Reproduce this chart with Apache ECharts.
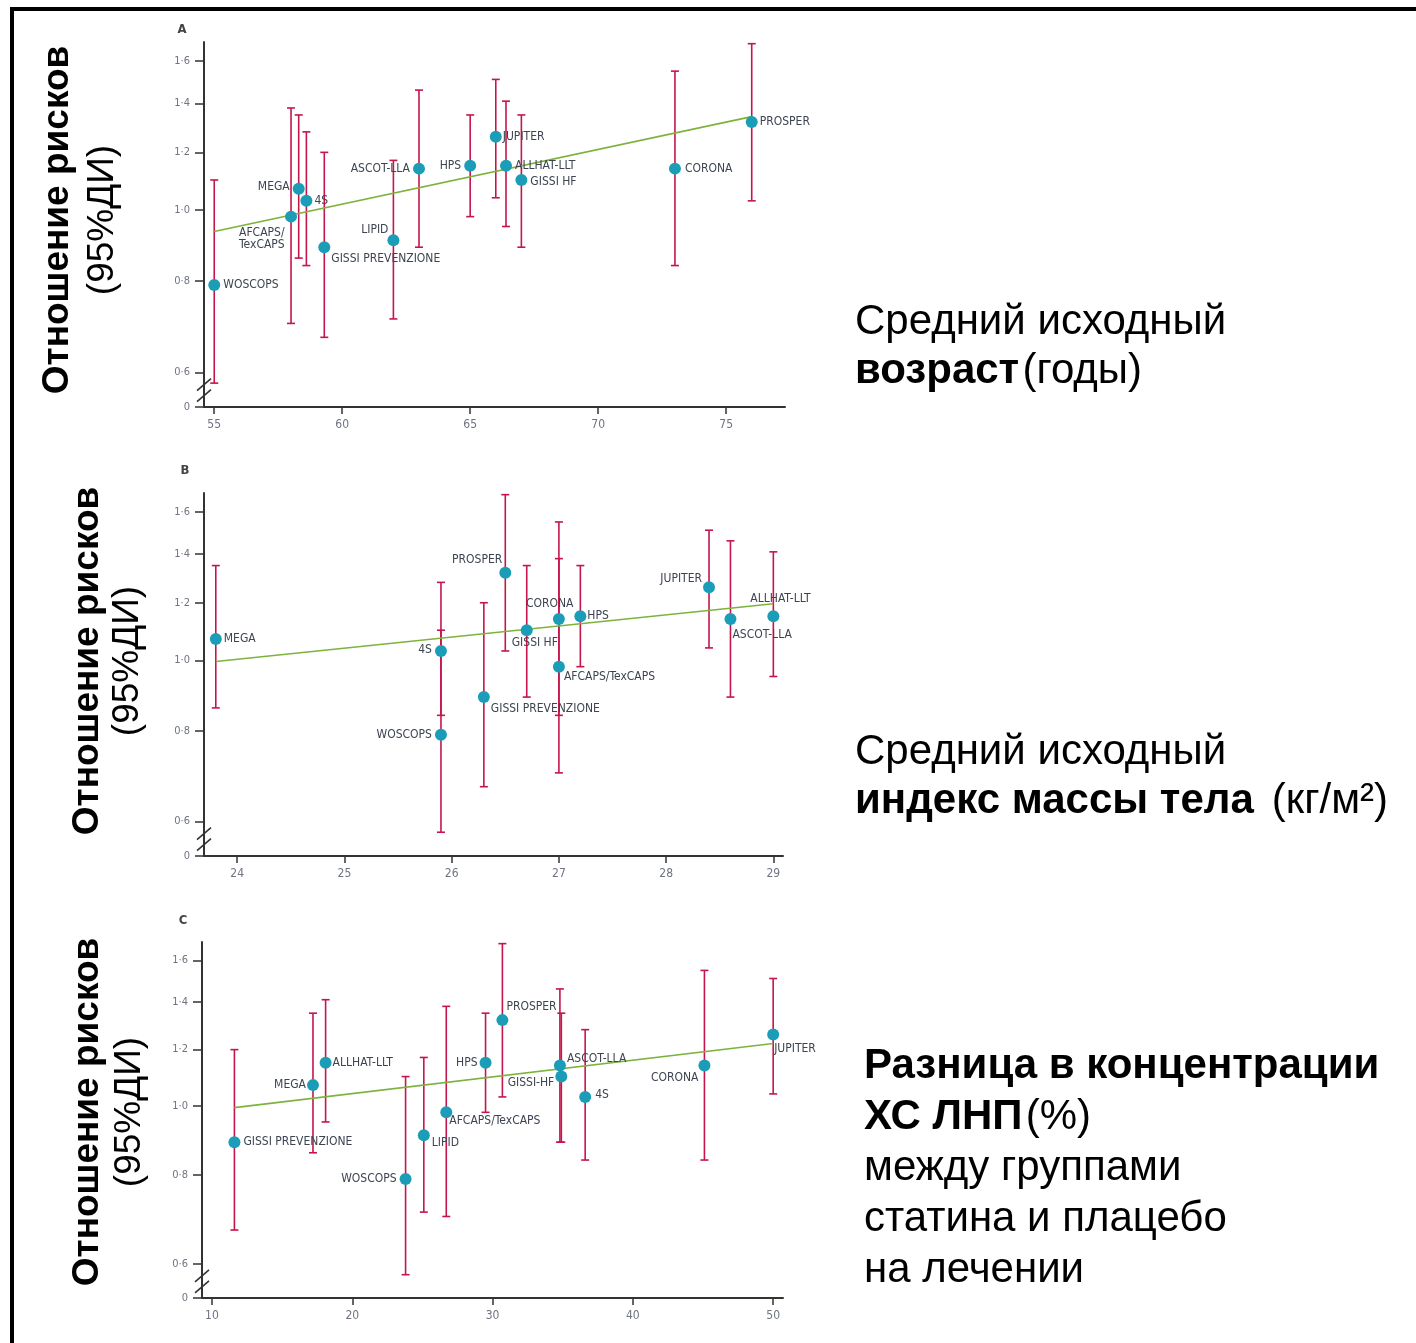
<!DOCTYPE html>
<html>
<head>
<meta charset="utf-8">
<script src="https://cdn.jsdelivr.net/npm/echarts@6/dist/echarts.min.js"></script>
<style>
html, body { margin: 0; padding: 0; background: #fff; }
#chart { width: 1416px; height: 1343px; }
</style>
</head>
<body>
<div id="chart"></div>
<script>
// statin trials, same order in every array below
var studies = ['ASCOT-LLA', 'HPS', 'JUPITER', 'WOSCOPS', 'LIPID', 'CORONA', 'PROSPER',
               'MEGA', 'AFCAPS/TexCAPS', '4S', 'ALLHAT-LLT', 'GISSI HF', 'GISSI PREVENZIONE'];
var hazardRatio = [1.14, 1.15, 1.26, 0.79, 0.91, 1.14, 1.32, 1.07, 0.98, 1.03, 1.15, 1.10, 0.89];
var ciLower     = [0.89, 0.98, 1.04, 0.58, 0.71, 0.84, 1.03, 0.86, 0.70, 0.84, 0.95, 0.89, 0.67];
var ciUpper     = [1.46, 1.35, 1.51, 1.10, 1.17, 1.55, 1.69, 1.35, 1.38, 1.28, 1.41, 1.35, 1.20];

// x values per panel (null = trial not shown)
var meanAge = [63.0, 65.0, 66.0, 55.0, 62.0, 73.0, 76.0, 58.3, 58.0, 58.6, 66.4, 67.0, 59.3];
var meanBmi = [28.6, 27.2, 28.4, 25.9, null, 27.0, 26.5, 23.8, 27.0, 25.9, 29.0, 26.7, 26.3];
var ldlDiff = [34.8, 29.5, 50.0, 23.8, 25.1, 45.1, 30.7, 17.2, 26.7, 36.6, 18.1, 34.9, 11.6];

// meta-regression lines, [x, HR] at both ends
var ageTrend = [[55.0, 0.935], [76.0, 1.343]];
var bmiTrend = [[23.8, 0.996], [29.0, 1.196]];
var ldlTrend = [[11.6, 0.995], [50.0, 1.224]];

// tick labels
var hrTicks  = [0.6, 0.8, 1.0, 1.2, 1.4, 1.6];
var ageTicks = [55, 60, 65, 70, 75];
var bmiTicks = [24, 25, 26, 27, 28, 29];
var ldlTicks = [10, 20, 30, 40, 50];

// ---- layout / style ----
var Y_MIN = -0.62, Y_MAX = 0.53;   // plot range in ln(HR)
var BREAK_AT = -0.565;             // where the // marks sit
var AXIS = '#333', DOT = '#1b9db8', BAR = '#c4164a', GREEN = '#7db33c';
var SMALL_FONT = "'Liberation Sans Narrow','DejaVu Sans Condensed',sans-serif";
var BIG_FONT = "'Liberation Sans', Arial, sans-serif";

// label placement: [dx, dy, align, text override]
var panels = [
  {
    letter: 'A', x: meanAge, ticks: ageTicks, trend: ageTrend, min: 54.6, max: 77.3,
    grid: { left: 204, top: 42, width: 581, height: 365 },
    labels: {
      'WOSCOPS': [9, 0, 'left'],
      'AFCAPS/TexCAPS': [-52, 22, 'left', 'AFCAPS/\nTexCAPS'],
      'MEGA': [-9, -2, 'right'],
      '4S': [8, 0, 'left'],
      'GISSI PREVENZIONE': [7, 12, 'left'],
      'LIPID': [-5, -10, 'right'],
      'ASCOT-LLA': [-9, 0, 'right'],
      'HPS': [-9, 0, 'right'],
      'JUPITER': [7, 0, 'left'],
      'ALLHAT-LLT': [9, 0, 'left'],
      'GISSI HF': [9, 2, 'left'],
      'CORONA': [10, 0, 'left'],
      'PROSPER': [8, 0, 'left']
    }
  },
  {
    letter: 'B', x: meanBmi, ticks: bmiTicks, trend: bmiTrend, min: 23.69, max: 29.09,
    grid: { left: 204, top: 493, width: 579, height: 363 },
    labels: {
      'MEGA': [8, 0, 'left'],
      '4S': [-9, -1, 'right'],
      'WOSCOPS': [-9, 0, 'right'],
      'GISSI PREVENZIONE': [7, 12, 'left'],
      'PROSPER': [-3, -13, 'right'],
      'GISSI HF': [-15, 13, 'left'],
      'CORONA': [-33, -15, 'left'],
      'AFCAPS/TexCAPS': [5, 10, 'left'],
      'HPS': [7, 0, 'left'],
      'JUPITER': [-7, -8, 'right'],
      'ASCOT-LLA': [2, 16, 'left'],
      'ALLHAT-LLT': [-23, -17, 'left']
    }
  },
  {
    letter: 'C', x: ldlDiff, ticks: ldlTicks, trend: ldlTrend, min: 9.29, max: 50.7,
    grid: { left: 202, top: 942, width: 581, height: 356 },
    labels: {
      'GISSI PREVENZIONE': [9, 0, 'left'],
      'MEGA': [-7, 0, 'right'],
      'ALLHAT-LLT': [7, 0, 'left'],
      'WOSCOPS': [-9, 0, 'right'],
      'LIPID': [8, 8, 'left'],
      'AFCAPS/TexCAPS': [3, 9, 'left'],
      'HPS': [-8, 0, 'right'],
      'PROSPER': [4, -13, 'left'],
      'ASCOT-LLA': [7, -7, 'left'],
      'GISSI HF': [-7, 6, 'right', 'GISSI-HF'],
      '4S': [10, -2, 'left'],
      'CORONA': [-6, 12, 'right'],
      'JUPITER': [1, 14, 'left']
    }
  }
];

var hrTicksLn = hrTicks.map(Math.log).concat([Y_MIN]);

function fmtHr(v) {
  if (v < Y_MIN + 0.001) return '0';
  return Math.exp(v).toFixed(1).replace('.', '\u00b7');
}

var grids = [], xAxes = [], yAxes = [], series = [];

panels.forEach(function (p, i) {
  grids.push(p.grid);

  xAxes.push({
    gridIndex: i, type: 'value', min: p.min, max: p.max,
    axisLine: { show: true, onZero: false, lineStyle: { color: AXIS, width: 2 } },
    axisTick: { show: true, customValues: p.ticks, length: 7, lineStyle: { color: AXIS, width: 1.5 } },
    axisLabel: { show: true, customValues: p.ticks, margin: 12, color: '#6f7480', fontSize: 12, fontFamily: SMALL_FONT },
    splitLine: { show: false }
  });

  yAxes.push({
    gridIndex: i, type: 'value', min: Y_MIN, max: Y_MAX,
    axisLine: { show: true, onZero: false, lineStyle: { color: AXIS, width: 2 } },
    axisTick: { show: true, customValues: hrTicksLn, length: 9, lineStyle: { color: AXIS, width: 1.5 } },
    axisLabel: { show: true, customValues: hrTicksLn, formatter: fmtHr, margin: 14, color: '#6f7480', fontSize: 11, fontFamily: SMALL_FONT },
    splitLine: { show: false }
  });

  var bars = [], dots = [];
  studies.forEach(function (name, k) {
    var xv = p.x[k];
    if (xv == null) return;
    bars.push([xv, Math.log(ciLower[k]), Math.log(ciUpper[k])]);
    var pl = p.labels[name] || [8, 0, 'left'];
    dots.push({
      name: name,
      value: [xv, Math.log(hazardRatio[k])],
      label: {
        position: [6 + pl[0], 6 + pl[1]],
        align: pl[2], verticalAlign: 'middle',
        formatter: pl[3] || name
      }
    });
  });

  // 95% CI whiskers
  series.push({
    type: 'custom', xAxisIndex: i, yAxisIndex: i, z: 2, silent: true,
    encode: { x: 0, y: [1, 2] },
    data: bars,
    renderItem: function (params, api) {
      var x = api.value(0);
      var lo = api.coord([x, api.value(1)]);
      var hi = api.coord([x, api.value(2)]);
      var s = { stroke: BAR, lineWidth: 1.6 };
      return {
        type: 'group', children: [
          { type: 'line', shape: { x1: hi[0], y1: hi[1], x2: lo[0], y2: lo[1] }, style: s },
          { type: 'line', shape: { x1: hi[0] - 4, y1: hi[1], x2: hi[0] + 4, y2: hi[1] }, style: s },
          { type: 'line', shape: { x1: lo[0] - 4, y1: lo[1], x2: lo[0] + 4, y2: lo[1] }, style: s }
        ]
      };
    }
  });

  // regression line
  series.push({
    type: 'line', xAxisIndex: i, yAxisIndex: i, z: 3, silent: true,
    symbol: 'none',
    data: p.trend.map(function (d) { return [d[0], Math.log(d[1])]; }),
    lineStyle: { color: GREEN, width: 1.6 }
  });

  // trial points
  series.push({
    type: 'scatter', xAxisIndex: i, yAxisIndex: i, z: 4,
    symbolSize: 12,
    itemStyle: { color: DOT, opacity: 1 },
    label: { show: true, color: '#3d4451', fontSize: 12, fontFamily: SMALL_FONT },
    data: dots
  });

  // axis break marks
  series.push({
    type: 'custom', xAxisIndex: i, yAxisIndex: i, z: 5, silent: true,
    data: [[p.min, BREAK_AT]],
    renderItem: function (params, api) {
      var c = api.coord([api.value(0), api.value(1)]);
      var s = { stroke: AXIS, lineWidth: 1.6 };
      return {
        type: 'group', children: [-5, 6].map(function (off) {
          return { type: 'line', shape: { x1: c[0] - 7, y1: c[1] + off + 6, x2: c[0] + 7, y2: c[1] + off - 6 }, style: s };
        })
      };
    }
  });
});

function txt(x, y, text, rich) {
  return {
    type: 'text', x: x, y: y, silent: true,
    style: { text: text, rich: rich, align: 'left', verticalAlign: 'middle', fill: '#000' }
  };
}

var RICH = {
  b: { fontFamily: BIG_FONT, fontSize: 42, fontWeight: 'bold', fill: '#000' },
  r: { fontFamily: BIG_FONT, fontSize: 42, fill: '#000' },
  gap: { width: 18, fontSize: 42 }
};
var RICH_T = {
  b: { fontFamily: BIG_FONT, fontSize: 37, fontWeight: 'bold', fill: '#000' },
  r: { fontFamily: BIG_FONT, fontSize: 37, fill: '#000' }
};

var graphics = [
  { type: 'rect', silent: true, shape: { x: 12, y: 9, width: 1440, height: 1400 },
    style: { fill: 'none', stroke: '#000', lineWidth: 4 } }
];

// panel letters
[['A', 182, 30], ['B', 185, 471], ['C', 183, 921]].forEach(function (l) {
  graphics.push({ type: 'text', x: l[1], y: l[2], silent: true,
    style: { text: l[0], fontFamily: SMALL_FONT, fontSize: 13, fontWeight: 'bold', fill: '#444', align: 'center', verticalAlign: 'middle' } });
});

// rotated y titles
[[58, 103, 220], [88, 128, 661], [88, 130, 1112]].forEach(function (t) {
  graphics.push({ type: 'text', x: t[0], y: t[2], rotation: Math.PI / 2, silent: true,
    style: { text: '{b|Отношение рисков}', rich: RICH_T, align: 'center', verticalAlign: 'middle' } });
  graphics.push({ type: 'text', x: t[1], y: t[2], rotation: Math.PI / 2, silent: true,
    style: { text: '{r|(95%ДИ)}', rich: RICH_T, align: 'center', verticalAlign: 'middle' } });
});

// x variable captions on the right
graphics.push(txt(855, 322, '{r|Средний исходный}', RICH));
graphics.push(txt(855, 371, '{b|возраст} {r|(годы)}', RICH));
graphics.push(txt(855, 752, '{r|Средний исходный}', RICH));
graphics.push(txt(855, 801, '{b|индекс массы тела}{gap| }{r|(кг/м²)}', RICH));
graphics.push(txt(864, 1066, '{b|Разница в концентрации}', RICH));
graphics.push(txt(864, 1117, '{b|ХС ЛНП} {r|(%)}', RICH));
graphics.push(txt(864, 1168, '{r|между группами}', RICH));
graphics.push(txt(864, 1219, '{r|статина и плацебо}', RICH));
graphics.push(txt(864, 1270, '{r|на лечении}', RICH));

var chart = echarts.init(document.getElementById('chart'));
chart.setOption({
  animation: false,
  backgroundColor: '#fff',
  grid: grids,
  xAxis: xAxes,
  yAxis: yAxes,
  series: series,
  graphic: graphics
});
</script>
</body>
</html>
